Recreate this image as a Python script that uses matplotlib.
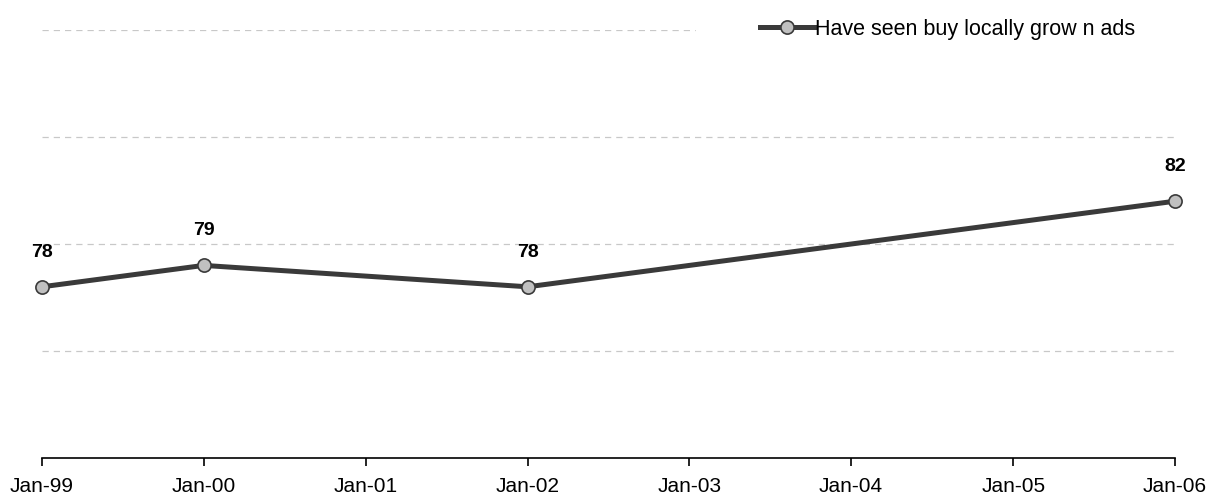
import matplotlib
matplotlib.use('Agg')
import matplotlib.pyplot as plt
import matplotlib.dates as mdates
from datetime import datetime

plt.rcParams['font.family'] = ['Liberation Sans', 'DejaVu Sans']

# data
dates = [datetime(1999, 1, 1), datetime(2000, 1, 1), datetime(2002, 1, 1), datetime(2006, 1, 1)]
values = [78, 79, 78, 82]
series_name = 'Have seen buy locally grow n ads'
tick_years = list(range(1999, 2007))

fig = plt.figure(figsize=(12.2, 5.0), dpi=100)
ax = fig.add_axes([42 / 1220, 42 / 500, (1175 - 42) / 1220, 428 / 500])

ax.plot(dates, values, color='#3a3a3a', linewidth=3.6, marker='o', markersize=9.5,
        markerfacecolor='#c0c0c0', markeredgecolor='#3a3a3a', markeredgewidth=1.2,
        label=series_name, zorder=3, clip_on=False)

for d, v in zip(dates, values):
    ax.annotate(str(v), (d, v), xytext=(0, 25), textcoords='offset points',
                ha='center', va='center', fontsize=14, fontweight='bold')

ax.set_ylim(70, 90)
ax.set_xlim(datetime(1999, 1, 1), datetime(2006, 1, 1))
ax.set_yticks([75, 80, 85, 90])
ax.yaxis.grid(True, color='#c8c8c8', linestyle=(0, (5, 4)), linewidth=0.9)
ax.tick_params(axis='y', left=False, labelleft=False)

ax.set_xticks([datetime(y, 1, 1) for y in tick_years])
ax.xaxis.set_major_formatter(mdates.DateFormatter('%b-%y'))
ax.tick_params(axis='x', direction='out', length=6, width=1.2, labelsize=15, pad=8)

for s in ['left', 'right', 'top']:
    ax.spines[s].set_visible(False)
ax.spines['bottom'].set_linewidth(1.2)

leg = fig.legend(loc='center right', bbox_to_anchor=(1200 / 1220, 471 / 500), frameon=True,
                 fontsize=15.5, handlelength=2.5, handletextpad=0.05, borderpad=3.0,
                 borderaxespad=0, framealpha=1, fancybox=False)
leg.get_frame().set_facecolor('white')
leg.get_frame().set_edgecolor('white')

fig.savefig('out.png', dpi=100)
